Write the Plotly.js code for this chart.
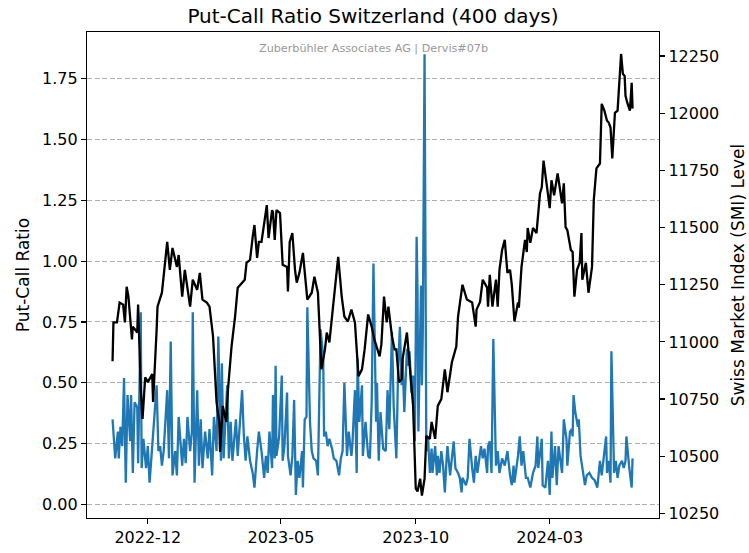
<!DOCTYPE html>
<html>
<head>
<meta charset="utf-8">
<script src="https://cdn.plot.ly/plotly-3.0.1.min.js"></script>
<style>
  html, body { margin: 0; padding: 0; background: #fff; }
  #plot { width: 749px; height: 553px; }
</style>
</head>
<body>
<div id="plot"></div>
<script>
// day offsets are counted from this date
const baseDate = '2022-12-01';

// Put-Call Ratio (left axis)
const pcrDay = [-40,-37,-34,-33,-31,-29,-27,-25,-23,-20,-19,-17,-15,-12,-11,-8,-7,-5,-2,0,2,5,7,10,12,14,16,18,22,24,26,28,31,33,35,39,41,43,45,48,50,51,53,56,58,60,62,65,68,70,73,75,78,80,83,84,86,90,92,94,96,100,102,104,107,109,
  111,113,116,119,121,124,126,129,132,134,136,138,141,142,144,145,146,149,152,153,155,158,159,162,164,166,168,170,172,175,176,178,180,181,184,186,188,191,193,194,196,199,200,202,204,206,209,211,214,217,219,221,223,226,228,231,232,235,237,238,240,243,244,247,250,252,254,256,259,260,262,
  264,267,270,272,274,277,279,282,284,286,288,289,291,294,295,297,299,301,303,305,306,307,310,311,312,314,316,318,320,322,323,326,328,329,331,333,335,337,339,340,343,345,347,349,352,354,356,357,361,363,365,368,370,372,374,378,380,382,385,386,388,390,392,395,397,399,402,405,408,411,413,415,
  416,420,422,424,426,429,431,434,437,440,442,443,447,448,451,454,456,458,459,462,464,466,468,470,472,475,476,479,481,482,483,485,488,489,491,493,496,498,501,504,507,510,513,515,517,520,521,523,525,526,529,531,533,535,538,540,542,543,546,549,550];
const pcrValue = [0.35,0.19,0.30,0.19,0.32,0.24,0.52,0.09,0.45,0.26,0.45,0.13,0.42,0.40,0.17,0.79,0.15,0.27,0.15,0.24,0.09,0.24,0.30,0.49,0.22,0.24,0.16,0.22,0.47,0.19,0.67,0.12,0.22,0.12,0.36,0.16,0.27,0.17,0.36,0.22,0.30,0.79,0.09,0.47,0.16,0.35,0.15,0.30,0.19,0.31,0.12,0.36,0.22,0.69,0.18,0.58,0.19,0.49,0.19,0.34,0.18,0.35,0.20,0.32,0.47,0.28,
  0.18,0.28,0.18,0.13,0.07,0.22,0.30,0.22,0.11,0.20,0.13,0.30,0.15,0.45,0.19,0.57,0.20,0.28,0.53,0.18,0.24,0.46,0.20,0.12,0.20,0.43,0.04,0.18,0.11,0.22,0.07,0.35,0.36,0.81,0.34,0.22,0.19,0.18,0.12,0.32,0.72,0.61,0.28,0.30,0.24,0.27,0.23,0.19,0.18,0.12,0.19,0.22,0.50,0.20,0.30,0.20,0.24,0.47,0.13,0.60,0.34,0.49,0.20,0.34,0.20,0.19,0.42,0.99,0.34,0.50,0.18,
  0.38,0.23,0.22,0.47,0.31,0.71,0.40,0.19,0.56,0.73,0.49,0.60,0.38,0.64,0.57,0.63,0.46,0.53,0.26,1.10,0.88,0.30,0.90,0.49,0.71,1.85,0.22,0.27,0.13,0.23,0.13,0.24,0.12,0.20,0.13,0.22,0.16,0.05,0.19,0.24,0.12,0.20,0.26,0.15,0.13,0.11,0.05,0.11,0.08,0.11,0.27,0.15,0.09,0.20,0.13,0.24,0.19,0.23,0.13,0.24,0.26,0.13,0.68,0.16,0.22,0.13,0.19,0.16,0.22,0.12,0.08,0.16,
  0.09,0.20,0.28,0.16,0.22,0.11,0.11,0.07,0.13,0.16,0.28,0.15,0.27,0.08,0.07,0.18,0.04,0.30,0.11,0.24,0.08,0.24,0.19,0.13,0.35,0.27,0.16,0.30,0.31,0.28,0.45,0.38,0.32,0.35,0.20,0.15,0.08,0.12,0.13,0.11,0.10,0.07,0.18,0.12,0.19,0.28,0.13,0.18,0.09,0.63,0.13,0.18,0.11,0.16,0.18,0.15,0.18,0.28,0.16,0.07,0.19];

// SMI level (right axis)
const smiDay = [-40,-39,-35,-32,-28,-26,-24,-22,-18,-17,-12,-11,-8,-6,-3,0,5,6,10,11,16,18,22,25,28,33,35,39,42,48,51,56,59,62,67,70,74,78,81,82,85,89,91,95,99,102,108,
  110,112,116,119,121,124,126,129,132,135,137,141,142,144,146,150,153,158,159,161,164,167,169,172,176,178,181,186,189,193,197,201,203,206,209,212,216,220,223,227,231,235,239,243,246,250,254,257,261,
  263,265,268,271,273,277,280,282,285,288,289,294,297,301,304,306,309,311,314,316,320,322,326,329,333,337,340,345,350,352,357,362,368,372,373,377,380,385,386,388,391,395,397,399,402,405,408,411,413,
  416,420,421,424,428,430,431,434,437,441,445,447,449,453,456,458,461,465,467,470,472,474,476,480,482,484,487,490,492,493,497,500,504,506,509,513,515,518,521,523,525,527,530,533,537,539,541,542,544,547,549,550];
const smiValue = [10915,11085,11085,11172,11163,11085,11241,11198,11011,11067,11041,11163,10793,10663,10845,10824,10859,10737,11054,11154,11215,11285,11437,11315,11411,11328,11380,11198,11315,11154,11272,11228,11302,11185,11172,11154,11024,10737,10650,10519,10720,10650,10793,10980,11111,11237,11263,
  11272,11346,11359,11459,11511,11367,11437,11437,11511,11598,11454,11576,11567,11446,11576,11563,11337,11328,11220,11437,11476,11315,11259,11302,11389,11315,11185,11215,11285,11215,10880,10967,11041,10998,11111,11198,11372,11198,11111,11089,11141,11085,10850,10880,10967,11120,11067,11011,10954,
  10937,10989,11198,11085,11154,11024,10967,10967,10824,10837,10924,11041,10893,10720,10359,10346,10402,10328,10402,10589,10576,10650,10576,10720,10750,10880,10780,10911,10980,11111,11250,11185,11172,11067,11141,11176,11272,11237,11154,11293,11154,11272,11154,11315,11402,11446,11302,11315,11250,
  11089,11172,11150,11328,11446,11393,11498,11433,11498,11476,11650,11676,11793,11676,11585,11707,11641,11737,11676,11606,11693,11502,11489,11402,11393,11198,11315,11346,11476,11272,11346,11215,11328,11620,11759,11780,12041,12011,11967,11959,11937,11802,12002,12011,12259,12172,12163,12076,12046,12011,12133,12020];

const xTickDates = ['2022-12-01', '2023-05-01', '2023-10-01', '2024-03-01'];
const xTickLabels = ['2022-12', '2023-05', '2023-10', '2024-03'];
const pcrTicks = [0, 0.25, 0.5, 0.75, 1.0, 1.25, 1.5, 1.75];
const smiTicks = [10250, 10500, 10750, 11000, 11250, 11500, 11750, 12000, 12250];

// turn a day offset into an ISO date string
function toDate(d) {
    const t = Date.parse(baseDate + 'T00:00:00Z') + d * 86400000;
    return new Date(t).toISOString().slice(0, 10);
}

const font = 'DejaVu Sans, sans-serif';

const pcrTrace = {
    x: pcrDay.map(toDate),
    y: pcrValue,
    type: 'scatter',
    mode: 'lines',
    line: { color: '#1f77b4', width: 2.3 },
    yaxis: 'y',
    name: 'Put-Call Ratio'
};

const smiTrace = {
    x: smiDay.map(toDate),
    y: smiValue,
    type: 'scatter',
    mode: 'lines',
    line: { color: '#000000', width: 2.3 },
    yaxis: 'y2',
    name: 'SMI'
};

const axisCommon = {
    showline: true,
    linecolor: '#000',
    linewidth: 1.2,
    ticks: 'outside',
    ticklen: 5,
    tickwidth: 1.2,
    tickcolor: '#000',
    zeroline: false,
    tickfont: { family: font, size: 16, color: '#000' }
};

const layout = {
    width: 749,
    height: 553,
    margin: { l: 87, r: 90, t: 32, b: 35 },
    paper_bgcolor: '#fff',
    plot_bgcolor: '#fff',
    showlegend: false,
    title: {
        text: 'Put-Call Ratio Switzerland (400 days)',
        font: { family: font, size: 20, color: '#000' },
        x: 0.5, xref: 'paper', xanchor: 'center',
        y: 1 - 16 / 553, yref: 'container', yanchor: 'middle'
    },
    xaxis: Object.assign({}, axisCommon, {
        type: 'date',
        range: [toDate(-69), toDate(580)],
        mirror: true,
        showgrid: false,
        tickvals: xTickDates,
        ticktext: xTickLabels
    }),
    yaxis: Object.assign({}, axisCommon, {
        range: [-0.055, 1.941],
        tickvals: pcrTicks,
        tickformat: '.2f',
        showgrid: true,
        gridcolor: '#b0b0b0',
        gridwidth: 1,
        griddash: '5px,2.5px',
        title: { text: 'Put-Call Ratio', font: { family: font, size: 17, color: '#000' }, standoff: 8 }
    }),
    yaxis2: Object.assign({}, axisCommon, {
        overlaying: 'y',
        side: 'right',
        range: [10230, 12355],
        tickvals: smiTicks,
        tickformat: 'd',
        showgrid: false,
        title: { text: 'Swiss Market Index (SMI) Level', font: { family: font, size: 17, color: '#000' }, standoff: 13 }
    }),
    annotations: [{
        text: 'Zuberbühler Associates AG | Dervis#07b',
        xref: 'paper', yref: 'paper',
        x: 0.5, y: 0.967,
        xanchor: 'center', yanchor: 'middle',
        showarrow: false,
        font: { family: font, size: 11.2, color: '#999999' }
    }]
};

Plotly.newPlot('plot', [pcrTrace, smiTrace], layout, { displayModeBar: false, staticPlot: true });
</script>
</body>
</html>
